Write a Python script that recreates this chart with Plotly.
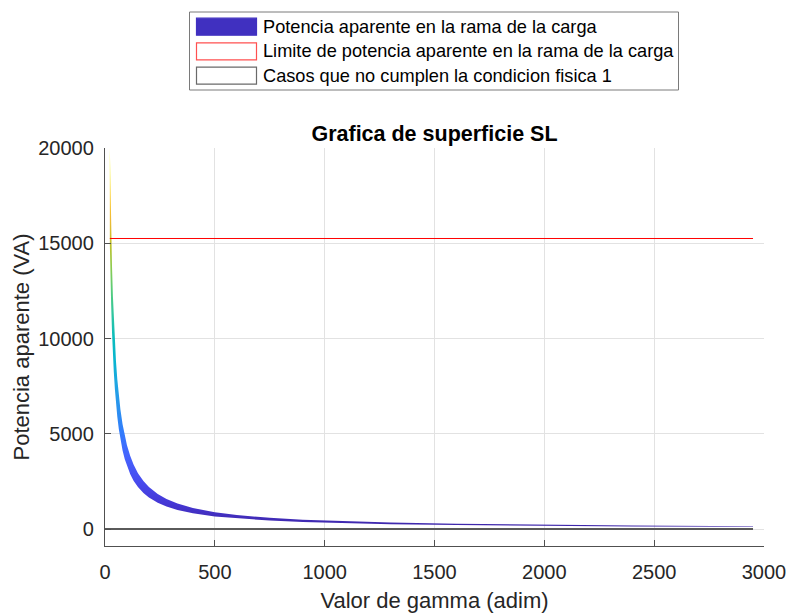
import plotly.graph_objects as go

# ---- data ----
gamma = [22, 25, 28, 32, 36, 40, 45, 50, 56, 63, 70, 80, 90, 100, 115, 130, 150, 175,
         200, 240, 280, 330, 400, 500, 600, 750, 900, 1100, 1300, 1600, 2000, 2400, 2950]
sl_upper = [20000, 17600, 15714, 13750, 12222, 11000, 9778, 8800, 7857, 6984, 6286, 5500,
            4889, 4400, 3826, 3385, 2933, 2514, 2200, 1833, 1571, 1333, 1100, 880, 733,
            587, 489, 400, 338, 275, 220, 183, 149]
sl_lower = [15000, 13200, 11786, 10313, 9167, 8250, 7333, 6600, 5893, 5238, 4714, 4125,
            3667, 3300, 2870, 2538, 2200, 1886, 1650, 1375, 1179, 1000, 825, 660, 550,
            440, 367, 300, 254, 206, 165, 138, 112]
limit_x = [22, 2950]
limit_sl = 15250
zero_x = [0, 2950]
zero_sl = 0

x_ticks = [0, 500, 1000, 1500, 2000, 2500, 3000]
y_ticks = [0, 5000, 10000, 15000, 20000]

legend_labels = ["Potencia aparente en la rama de la carga",
                 "Limite de potencia aparente en la rama de la carga",
                 "Casos que no cumplen la condicion fisica 1"]

# MATLAB parula colormap (sampled)
parula = [
    (0.2422, 0.1504, 0.6603), (0.2706, 0.2147, 0.8364), (0.2813, 0.3006, 0.9414),
    (0.2699, 0.3892, 0.9906), (0.1963, 0.4847, 0.9892), (0.1687, 0.5703, 0.9359),
    (0.1248, 0.6459, 0.8883), (0.0297, 0.7082, 0.8163), (0.0433, 0.7411, 0.7394),
    (0.1938, 0.7758, 0.6251), (0.3406, 0.8008, 0.4789), (0.5616, 0.7942, 0.3045),
    (0.7738, 0.7598, 0.1646), (0.9393, 0.7288, 0.2100), (0.9892, 0.8136, 0.1885),
    (0.9628, 0.9373, 0.1265), (0.9769, 0.9839, 0.0805)]
n = len(parula)
colorscale = [[i / (n - 1), "rgb(%d,%d,%d)" % tuple(round(c * 255) for c in col)]
              for i, col in enumerate(parula)]

FONT = "Liberation Sans, Arial, Helvetica, sans-serif"
W, H = 789, 613
L, R, T, B = 105, 764, 148, 546

fig = go.Figure()

fig.add_trace(go.Scatter(x=zero_x, y=[zero_sl] * len(zero_x), mode="lines",
                         line=dict(color="#5a5a5a", width=2), showlegend=False,
                         hoverinfo="skip"))

fig.add_trace(go.Scatter(
    x=gamma + gamma[::-1], y=sl_upper + sl_lower[::-1],
    mode="lines", fill="toself", line=dict(width=0),
    fillgradient=dict(type="vertical", colorscale=colorscale,
                      start=min(sl_lower), stop=max(sl_upper)),
    showlegend=False, hoverinfo="skip"))

fig.add_trace(go.Scatter(x=limit_x, y=[limit_sl] * len(limit_x), mode="lines",
                         line=dict(color="#ff0000", width=1), showlegend=False,
                         hoverinfo="skip"))

# ---- manual legend (paper coords from pixel layout) ----
def px(xp):
    return (xp - L) / (R - L)

def py(yp):
    return (B - yp) / (B - T)

shapes = [dict(type="rect", xref="paper", yref="paper",
               x0=px(189.5), x1=px(678.5), y0=py(90), y1=py(12),
               line=dict(color="#7a7a7a", width=1), fillcolor="white", layer="above")]
rows = [26.7, 51.3, 75.7]
styles = [dict(fill="#4030c0", line="#4030c0"),
          dict(fill="white", line="#ff5050"),
          dict(fill="white", line="#6a6a6a")]
annotations = []
for yc, st, lab in zip(rows, styles, legend_labels):
    shapes.append(dict(type="rect", xref="paper", yref="paper",
                       x0=px(196.5), x1=px(256.5), y0=py(yc + 8.5), y1=py(yc - 8.5),
                       line=dict(color=st["line"], width=1.2), fillcolor=st["fill"],
                       layer="above"))
    annotations.append(dict(text=lab, xref="paper", yref="paper", x=px(261), y=py(yc),
                            xanchor="left", yanchor="middle", showarrow=False,
                            font=dict(family=FONT, size=18.2, color="black")))

fig.update_layout(
    width=W, height=H, margin=dict(l=L, r=W - R, t=T, b=H - B, pad=0, autoexpand=False),
    paper_bgcolor="white", plot_bgcolor="white",
    font=dict(family=FONT, color="#262626"),
    title=dict(text="<b>Grafica de superficie SL</b>", x=0.5, xref="paper",
               y=1 - 133 / H, yref="container", xanchor="center", yanchor="middle",
               font=dict(family=FONT, size=21.5, color="black")),
    shapes=shapes, annotations=annotations, showlegend=False,
    xaxis=dict(range=[0, 3000], tickvals=x_ticks, tickformat="d", automargin=False,
               showgrid=True, gridcolor="#e2e2e2",
               gridwidth=1, zeroline=False, showline=True, linecolor="#505050",
               linewidth=1.3, ticks="inside", ticklen=6, tickcolor="#505050",
               tickfont=dict(family=FONT, size=20, color="#262626"),
               ticklabelstandoff=8,
               title=dict(text="Valor de gamma (adim)", standoff=12,
                          font=dict(family=FONT, size=22, color="#262626"))),
    yaxis=dict(range=[-892, 20000], tickvals=y_ticks, tickformat="d", automargin=False,
               showgrid=True, gridcolor="#e2e2e2",
               gridwidth=1, zeroline=False, showline=True, linecolor="#505050",
               linewidth=1.3, ticks="inside", ticklen=6, tickcolor="#505050",
               tickfont=dict(family=FONT, size=20, color="#262626"),
               ticklabelstandoff=6,
               title=dict(text="Potencia aparente (VA)", standoff=2,
                          font=dict(family=FONT, size=22, color="#262626"))),
)

fig.write_html("out.html")
